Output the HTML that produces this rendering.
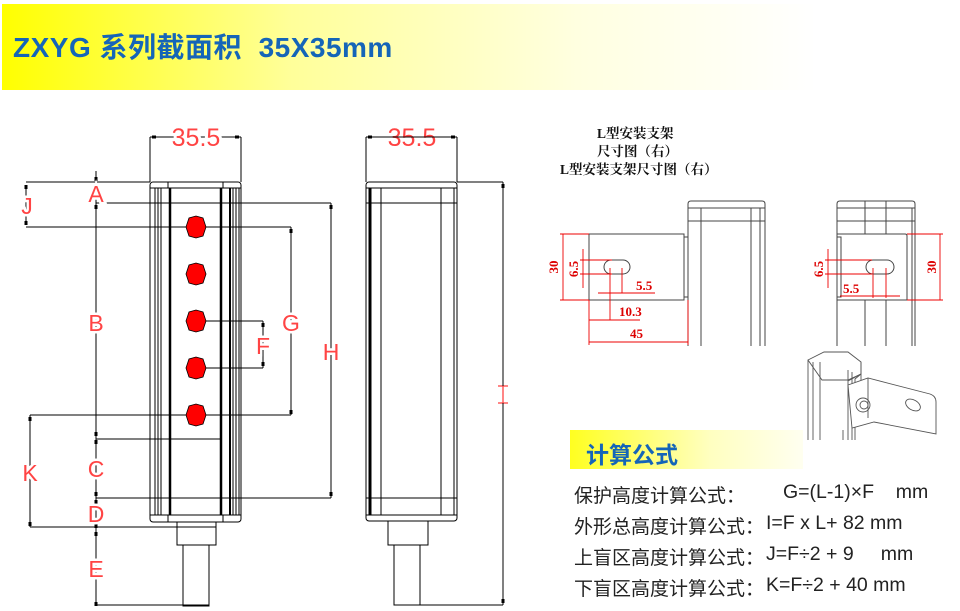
<!DOCTYPE html>
<html><head><meta charset="utf-8"><style>
body{margin:0;width:960px;height:611px;overflow:hidden;background:#fff;position:relative;font-family:"Liberation Sans","Noto Sans CJK SC",sans-serif}
.hdr{position:absolute;left:2px;top:4px;width:958px;height:86px;background:linear-gradient(90deg,#ffff00 0%,#ffff99 30%,#ffffe0 60%,#fff 85%)}
.ttl{position:absolute;left:13px;top:26px;font-size:28px;font-weight:bold;color:#1565b8;white-space:pre;letter-spacing:0.5px}
.fb{position:absolute;left:570px;top:430px;width:233px;height:39px;background:linear-gradient(90deg,#ffff20,#ffffc0 60%,#fffff0)}
.fbt{position:absolute;left:586px;top:436px;font-size:23px;font-weight:bold;color:#1565b8}
.f{position:absolute;left:574px;font-size:19px;color:#222;white-space:pre;font-family:"Liberation Sans","Noto Sans CJK SC",sans-serif}
.f b{font-weight:normal;font-size:19.5px;position:absolute;top:0}
.cap{position:absolute;font-family:"Liberation Serif","Noto Serif CJK SC",serif;font-weight:bold;font-size:13.5px;color:#111;white-space:pre}
</style></head><body>
<div class="hdr"></div>
<div class="ttl">ZXYG 系列截面积  35X35mm</div>
<div class="cap" style="left:597px;top:122px">L型安装支架</div>
<div class="cap" style="left:597px;top:140px">尺寸图（右）</div>
<div class="cap" style="left:560px;top:158px">L型安装支架尺寸图（右）</div>
<svg width="960" height="611" style="position:absolute;left:0;top:0" fill="none" stroke="#000" stroke-width="1">
<g>
<line x1="150" y1="137" x2="241" y2="137"/><line x1="150" y1="137" x2="150" y2="182"/><line x1="241" y1="137" x2="241" y2="182"/>
<rect x="150" y="182" width="91" height="340" rx="3"/>
<line x1="150" y1="188" x2="241" y2="188"/><line x1="150" y1="515" x2="241" y2="515"/>
<line x1="155" y1="188" x2="155" y2="515"/><line x1="158" y1="188" x2="158" y2="515"/><line x1="161" y1="188" x2="161" y2="515"/>
<line x1="170" y1="188" x2="170" y2="515" stroke-width="2.5"/><line x1="221" y1="188" x2="221" y2="515" stroke-width="2.5"/>
<line x1="230" y1="188" x2="230" y2="515" stroke-width="2"/><line x1="233" y1="188" x2="233" y2="515"/><line x1="236" y1="188" x2="236" y2="515"/><line x1="239" y1="188" x2="239" y2="515"/>
<line x1="168" y1="182" x2="168" y2="188"/><line x1="223" y1="182" x2="223" y2="188"/><line x1="168" y1="515" x2="168" y2="522"/><line x1="223" y1="515" x2="223" y2="522"/>
<rect x="177" y="522" width="39" height="23"/><rect x="183" y="545" width="26" height="61"/>
<line x1="96" y1="171" x2="96" y2="605"/>
<line x1="26" y1="182" x2="150" y2="182"/><line x1="26" y1="227" x2="196" y2="227"/><line x1="26" y1="185" x2="26" y2="224"/>
<line x1="96" y1="203" x2="331" y2="203"/><line x1="331" y1="203" x2="331" y2="498"/><line x1="96" y1="498" x2="331" y2="498"/>
<line x1="196" y1="227" x2="291" y2="227"/><line x1="196" y1="415" x2="291" y2="415"/><line x1="291" y1="227" x2="291" y2="415"/>
<line x1="196" y1="321" x2="263" y2="321"/><line x1="196" y1="368" x2="263" y2="368"/><line x1="263" y1="321" x2="263" y2="368"/>
<line x1="30" y1="415" x2="196" y2="415"/><line x1="30" y1="527" x2="216" y2="527"/><line x1="30" y1="415" x2="30" y2="527"/>
<line x1="96" y1="439" x2="221" y2="439"/><line x1="96" y1="605" x2="209" y2="605"/>
<g fill="#000" stroke="none">
<rect x="94.5" y="432" width="3" height="4"/><rect x="94.5" y="440" width="3" height="4"/><rect x="94.5" y="492" width="3" height="4"/><rect x="94.5" y="500" width="3" height="4"/><rect x="94.5" y="524" width="3" height="4"/><rect x="94.5" y="532" width="3" height="4"/><rect x="94.5" y="602" width="3" height="4"/><rect x="94.5" y="205" width="3" height="4"/><rect x="94.5" y="177" width="3" height="4"/>
<rect x="329.5" y="205" width="3" height="4"/><rect x="329.5" y="492" width="3" height="4"/><rect x="289.5" y="229" width="3" height="4"/><rect x="289.5" y="410" width="3" height="4"/>
<rect x="24.5" y="185" width="3" height="4"/><rect x="24.5" y="221" width="3" height="4"/><rect x="28.5" y="417" width="3" height="4"/><rect x="28.5" y="522" width="3" height="4"/>
<rect x="261.5" y="323" width="3" height="4"/><rect x="261.5" y="362" width="3" height="4"/>
<rect x="152" y="135.5" width="4" height="3"/><rect x="235" y="135.5" width="4" height="3"/>
</g>
<g fill="#f00" stroke="#000" stroke-width="0.8">
<polygon points="186,227 189,218 196,216 203,218 206,227 203,236 196,238 189,236"/>
<polygon points="186,274 189,265 196,263 203,265 206,274 203,283 196,285 189,283"/>
<polygon points="186,321 189,312 196,310 203,312 206,321 203,330 196,332 189,330"/>
<polygon points="186,368 189,359 196,357 203,359 206,368 203,377 196,379 189,377"/>
<polygon points="186,415 189,406 196,404 203,406 206,415 203,424 196,426 189,424"/>
</g>
</g>
<g fill="#f44" stroke="none" font-family="Liberation Sans,sans-serif" font-size="23" text-anchor="middle">
<text x="196" y="146" fill="#fff" stroke="#fff" stroke-width="6" font-size="25">35.5</text>
<text x="196" y="146" font-size="25">35.5</text>
<text x="96" y="202" fill="#fff" stroke="#fff" stroke-width="5">A</text><text x="96" y="202">A</text>
<text x="96" y="331" fill="#fff" stroke="#fff" stroke-width="5">B</text><text x="96" y="331">B</text>
<text x="96" y="477" fill="#fff" stroke="#fff" stroke-width="5">C</text><text x="96" y="477">C</text>
<text x="96" y="522" fill="#fff" stroke="#fff" stroke-width="5">D</text><text x="96" y="522">D</text>
<text x="96" y="577" fill="#fff" stroke="#fff" stroke-width="5">E</text><text x="96" y="577">E</text>
<text x="291" y="331" fill="#fff" stroke="#fff" stroke-width="5">G</text><text x="291" y="331">G</text>
<text x="263" y="354" fill="#fff" stroke="#fff" stroke-width="5">F</text><text x="263" y="354">F</text>
<text x="331" y="360" fill="#fff" stroke="#fff" stroke-width="5">H</text><text x="331" y="360">H</text>
<text x="30" y="481" fill="#fff" stroke="#fff" stroke-width="5">K</text><text x="30" y="481">K</text>
<text x="27" y="214" fill="#fff" stroke="#fff" stroke-width="5">J</text><text x="27" y="214">J</text>
<text x="412" y="146" fill="#fff" stroke="#fff" stroke-width="6" font-size="25">35.5</text><text x="412" y="146" font-size="25">35.5</text>
</g>
<g stroke="#f44" stroke-width="1.3"><line x1="503" y1="386" x2="503" y2="403"/><line x1="498" y1="386" x2="508" y2="386"/><line x1="498" y1="403" x2="508" y2="403"/></g>
<g>
<line x1="366" y1="137" x2="457" y2="137"/><line x1="366" y1="137" x2="366" y2="182"/><line x1="457" y1="137" x2="457" y2="182"/>
<rect x="366" y="182" width="91" height="339" rx="3"/>
<line x1="366" y1="188" x2="457" y2="188"/><line x1="366" y1="515" x2="457" y2="515"/>
<line x1="369" y1="188" x2="369" y2="515"/><line x1="370.5" y1="188" x2="370.5" y2="515" stroke-width="2"/><line x1="381" y1="188" x2="381" y2="515"/><line x1="441" y1="188" x2="441" y2="515"/><line x1="454" y1="188" x2="454" y2="515"/>
<line x1="366" y1="203" x2="457" y2="203"/><line x1="366" y1="498" x2="457" y2="498"/>
<rect x="388" y="521" width="40" height="24"/><rect x="394" y="545" width="26" height="60"/>
<line x1="457" y1="182" x2="503" y2="182"/><line x1="420" y1="605" x2="503" y2="605"/><line x1="503" y1="182" x2="503" y2="386"/><line x1="503" y1="403" x2="503" y2="605"/>
<g fill="#000" stroke="none"><rect x="501.5" y="184" width="3" height="4"/><rect x="501.5" y="599" width="3" height="4"/><rect x="368" y="135.5" width="4" height="3"/><rect x="451" y="135.5" width="4" height="3"/></g>
</g>
<g stroke="#444">
<path d="M688 346V204q0-3 3-3h71q3 0 3 3v142"/><line x1="688" y1="221" x2="765" y2="221"/>
<line x1="701" y1="208" x2="701" y2="346"/><line x1="751" y1="208" x2="751" y2="346"/><line x1="760" y1="208" x2="760" y2="346"/>
<line x1="688" y1="208" x2="765" y2="208"/>
<rect x="589" y="234" width="95" height="66"/><rect x="684" y="237" width="4" height="60"/>
<rect x="604" y="260" width="26" height="14" rx="7"/>
<path d="M837 346V204q0-3 3-3h72q3 0 3 3v142"/><line x1="837" y1="221" x2="915" y2="221"/><line x1="837" y1="208" x2="915" y2="208"/>
<line x1="865" y1="201" x2="865" y2="234"/><line x1="886" y1="201" x2="886" y2="234"/><line x1="865" y1="300" x2="865" y2="346"/><line x1="886" y1="300" x2="886" y2="346"/><line x1="912" y1="208" x2="912" y2="346"/>
<path d="M837 234h68q2 0 2 2v64h-70z"/><rect x="837" y="237" width="4" height="60"/>
<rect x="866" y="260" width="28" height="14" rx="7"/>
</g>
<g stroke="#e00" stroke-width="0.9">
<line x1="563" y1="234" x2="563" y2="300"/><line x1="560" y1="234" x2="589" y2="234"/><line x1="560" y1="300" x2="589" y2="300"/>
<line x1="583" y1="249" x2="583" y2="288"/><line x1="580" y1="260" x2="612" y2="260"/><line x1="580" y1="274" x2="612" y2="274"/>
<line x1="598" y1="293" x2="655" y2="293"/><line x1="610" y1="268" x2="610" y2="320"/><line x1="622" y1="268" x2="622" y2="293"/>
<line x1="589" y1="320" x2="640" y2="320"/><line x1="589" y1="300" x2="589" y2="345"/><line x1="589" y1="342" x2="688" y2="342"/><line x1="688" y1="300" x2="688" y2="345"/>
<line x1="940" y1="234" x2="940" y2="300"/><line x1="907" y1="234" x2="943" y2="234"/><line x1="907" y1="300" x2="943" y2="300"/>
<line x1="828" y1="249" x2="828" y2="288"/><line x1="825" y1="260" x2="872" y2="260"/><line x1="825" y1="274" x2="872" y2="274"/>
<line x1="840" y1="296" x2="900" y2="296"/><line x1="873" y1="268" x2="873" y2="298"/><line x1="886" y1="268" x2="886" y2="298"/>
</g>
<g fill="#d00" stroke="none" font-family="Liberation Serif,serif" font-size="13" font-weight="bold">
<text transform="translate(558,267) rotate(-90)" text-anchor="middle">30</text>
<text transform="translate(578,269) rotate(-90)" text-anchor="middle">6.5</text>
<text x="636" y="290">5.5</text><text x="619" y="316">10.3</text><text x="630" y="338">45</text>
<text transform="translate(936,267) rotate(-90)" text-anchor="middle">30</text>
<text transform="translate(823,269) rotate(-90)" text-anchor="middle">6.5</text>
<text x="843" y="293">5.5</text>
</g>
<g stroke="#555" stroke-width="0.9">
<path d="M808 360v80M813 362v78M820 362v78M848 370v70M852 372v68M843 430v10"/>
<path d="M808 360l16-8h24l13 10v12l-13 6h-26z"/><path d="M861 362v12l-6 5v61"/>
<path d="M848 381l13-7v8"/>
<path d="M848 385l20-7 62 16q6 2 6 8v32l-62-12-22 6z" fill="#fff"/>
<path d="M868 378v40"/>
<circle cx="863" cy="405" r="7"/><circle cx="864" cy="405" r="4"/>
<ellipse cx="913" cy="405" rx="5" ry="8" transform="rotate(-60 913 405)"/>
</g>
</svg>
<div class="fb"></div>
<div class="fbt">计算公式</div>
<div class="f" style="top:481px">保护高度计算公式：<b style="left:209px">G=(L-1)×F&nbsp;&nbsp;&nbsp;&nbsp;mm</b></div>
<div class="f" style="top:512px">外形总高度计算公式：<b style="left:192px">I=F x L+ 82 mm</b></div>
<div class="f" style="top:543px">上盲区高度计算公式：<b style="left:192px">J=F÷2 + 9&nbsp;&nbsp;&nbsp;&nbsp;&nbsp;mm</b></div>
<div class="f" style="top:574px">下盲区高度计算公式：<b style="left:192px">K=F÷2 + 40 mm</b></div>
</body></html>
